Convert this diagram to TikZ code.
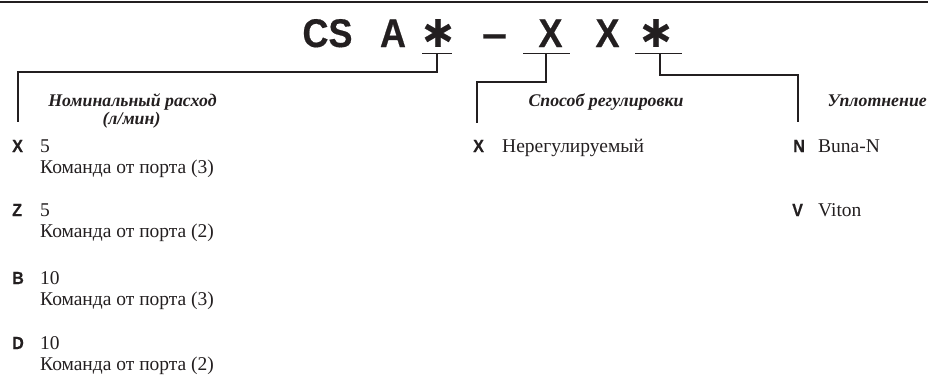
\documentclass[tikz,border=0pt]{standalone}
\usepackage{fontspec}
\setmainfont{Liberation Serif}
\newfontfamily\labfont[FakeStretch=0.92,FakeBold=0.3]{Liberation Sans}
\newfontfamily\titlefont[FakeStretch=0.9,FakeBold=0.4]{Liberation Sans}
\newfontfamily\symfont[FakeBold=0.3]{DejaVu Sans}
\definecolor{ink}{HTML}{231F20}
\tikzset{
  title/.style={font=\titlefont\bfseries\fontsize{40}{40}\selectfont, inner sep=0pt, anchor=base, text=ink},
  ast/.style={font=\symfont\bfseries\fontsize{44}{44}\selectfont, inner sep=0pt, anchor=center, text=ink},
  code/.style={font=\labfont\bfseries\fontsize{17.5}{17.5}\selectfont, inner sep=0pt, anchor=base west, text=ink},
  val/.style={font=\fontsize{19.5}{22}\selectfont, inner sep=0pt, anchor=base west, text=ink},
  head/.style={font=\bfseries\itshape\fontsize{17.8}{20}\selectfont, inner sep=0pt, anchor=base, text=ink},
  conn/.style={line width=1.3pt, draw=ink},
  uline/.style={line width=1pt, draw=ink},
  rule/.style={line width=2pt, draw=ink}
}
\begin{document}
\begin{tikzpicture}[x=1pt,y=-1pt]
\useasboundingbox (0,0) rectangle (928,376);
% top rule
\coordinate (rl) at (0,1.5);
\coordinate (rr) at (928,1.5);
\draw[rule] (rl) -- (rr);
% title
\node[title] (tCS) at (327.5,47) {CS};
\node[title] (tA) at (393,47) {A};
\node[ast] (tS1) at (438,33) {∗};
\node[title] (tD) at (494.5,47) {\scalebox{1.25}[1]{–}};
\node[title] (tX1) at (550.5,47) {X};
\node[title] (tX2) at (607.5,47) {X};
\node[ast] (tS2) at (656,33) {∗};
% underlines
\coordinate (u1a) at (422,53); \coordinate (u1b) at (452,53); \coordinate (u1m) at (437,53);
\coordinate (u2a) at (523,53); \coordinate (u2b) at (570,53); \coordinate (u2m) at (546,53);
\coordinate (u3a) at (635,53); \coordinate (u3b) at (682,53); \coordinate (u3m) at (660,53);
\draw[uline] (u1a) -- (u1b);
\draw[uline] (u2a) -- (u2b);
\draw[uline] (u3a) -- (u3b);
% connector ends
\coordinate (c1) at (18,122);
\coordinate (c2) at (477,123);
\coordinate (c3) at (798,122);
\draw[conn] (u1m) -- ++(0,19) -| (c1);
\draw[conn] (u2m) -- ++(0,29) -| (c2);
\draw[conn] (u3m) -- ++(0,22) -| (c3);
% headings
\node[head] (h1a) at (132.5,106) {Номинальный расход};
\node[head] (h1b) at (131.5,124) {(л/мин)};
\node[head] (h2) at (606,106) {Способ регулировки};
\node[head, anchor=base east] (h3) at (927,106) {Уплотнение};
% left column
\node[code] (kX) at (12,152) {X};
\node[val] (vX) at (40,152) {5};
\node[val] (dX) at (40,173) {Команда от порта (3)};
\node[code] (kZ) at (12,216) {Z};
\node[val] (vZ) at (40,216) {5};
\node[val] (dZ) at (40,237) {Команда от порта (2)};
\node[code] (kB) at (12,284) {B};
\node[val] (vB) at (40,284) {10};
\node[val] (dB) at (40,305) {Команда от порта (3)};
\node[code] (kD) at (12,349) {D};
\node[val] (vD) at (40,349) {10};
\node[val] (dD) at (40,370) {Команда от порта (2)};
% middle column
\node[code] (mX) at (473,152) {X};
\node[val] (mXt) at (502,152) {Нерегулируемый};
% right column
\node[code] (rN) at (793,152) {N};
\node[val] (rNt) at (818,152) {Buna-N};
\node[code] (rV) at (792,216) {V};
\node[val] (rVt) at (818,216) {Viton};
\end{tikzpicture}
\end{document}
